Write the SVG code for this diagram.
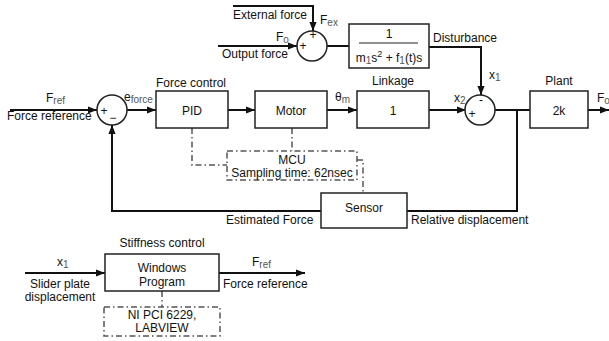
<svg xmlns="http://www.w3.org/2000/svg" width="609" height="341" viewBox="0 0 609 341">
<style>
text{font-family:"Liberation Sans",Arial,sans-serif;font-size:12px;fill:#111}
.c{text-anchor:middle}
.sub{font-size:10px;fill:#555}
.blk{fill:#fff;stroke:#222;stroke-width:1.5}
.w{fill:none;stroke:#111;stroke-width:2}
.dd{fill:none;stroke:#555;stroke-width:1.5;stroke-dasharray:6 3 1.5 3}
</style>
<defs>
<marker id="a" viewBox="0 0 10 8" refX="10" refY="4" markerWidth="9" markerHeight="7.2" orient="auto" markerUnits="userSpaceOnUse">
<path d="M0,0 L10,4 L0,8 z" fill="#111"/>
</marker>
</defs>

<g id="connectors">
<polyline class="w" points="233,6 313,6 313,31" marker-end="url(#a)"/>
<line class="w" x1="218" y1="46" x2="297" y2="46" marker-end="url(#a)"/>
<line class="w" x1="327" y1="46" x2="349" y2="46"/>
<polyline class="w" points="429,47 481,47 481,95" marker-end="url(#a)"/>
<line class="w" x1="10" y1="110" x2="97" y2="110" marker-end="url(#a)"/>
<line class="w" x1="127" y1="110" x2="156" y2="110" marker-end="url(#a)"/>
<line class="w" x1="228" y1="110" x2="255" y2="110" marker-end="url(#a)"/>
<line class="w" x1="327" y1="110" x2="357" y2="110" marker-end="url(#a)"/>
<line class="w" x1="429" y1="110" x2="466" y2="110" marker-end="url(#a)"/>
<line class="w" x1="495" y1="110" x2="530" y2="110"/>
<line class="w" x1="588" y1="110" x2="609" y2="110" marker-end="url(#a)"/>
<polyline class="w" points="517,110 517,211 407,211"/>
<polyline class="w" points="321,211 112,211 112,125" marker-end="url(#a)"/>
<line class="w" x1="25" y1="273" x2="105" y2="273" marker-end="url(#a)"/>
<line class="w" x1="219" y1="273" x2="305" y2="273" marker-end="url(#a)"/>
<polyline class="dd" points="192,128 192,165 227,165"/>
<line class="dd" x1="292" y1="128" x2="292" y2="151"/>
<polyline class="dd" points="357,160 363,160 363,193"/>
<line class="dd" x1="162" y1="291" x2="162" y2="307"/>
</g>

<g id="sum-disturbance">
<circle class="blk" cx="312" cy="46" r="15"/>
<text x="313" y="39" class="c">+</text>
<text x="303" y="50" class="c">+</text>
</g>
<g id="disturbance-tf">
<rect class="blk" x="349" y="24" width="80" height="44"/>
<text x="389" y="38" class="c">1</text>
<line x1="359" y1="43" x2="418" y2="43" stroke="#222" stroke-width="1"/>
<text x="389" y="62" class="c" font-size="13">m<tspan class="sub" dy="2">1</tspan><tspan dy="-2">s</tspan><tspan font-size="9" dy="-5">2</tspan><tspan dy="5"> + f</tspan><tspan class="sub" dy="2">1</tspan><tspan dy="-2">(t)s</tspan></text>
</g>
<g id="sum-force">
<circle class="blk" cx="112" cy="110" r="15"/>
<text x="104" y="115" class="c">+</text>
<text x="113" y="122" class="c">−</text>
</g>
<g id="pid">
<rect class="blk" x="156" y="91" width="72" height="37"/>
<text x="192" y="115" class="c">PID</text>
</g>
<g id="motor">
<rect class="blk" x="255" y="91" width="72" height="37"/>
<text x="291" y="115" class="c">Motor</text>
</g>
<g id="linkage">
<rect class="blk" x="357" y="91" width="72" height="37"/>
<text x="393" y="115" class="c">1</text>
</g>
<g id="sum-disp">
<circle class="blk" cx="480" cy="110" r="15"/>
<text x="481" y="104" class="c">-</text>
<text x="472" y="118" class="c">+</text>
</g>
<g id="plant">
<rect class="blk" x="530" y="91" width="58" height="37"/>
<text x="559" y="115" class="c">2k</text>
</g>
<g id="sensor">
<rect class="blk" x="321" y="193" width="86" height="35"/>
<text x="364" y="212" class="c">Sensor</text>
</g>
<g id="mcu">
<rect class="dd" x="227" y="151" width="130" height="29"/>
<text x="292" y="164" class="c">MCU</text>
<text x="292" y="177" class="c">Sampling time: 62nsec</text>
</g>
<g id="windows-program">
<rect class="blk" x="105" y="254" width="114" height="37"/>
<text x="162" y="272" class="c">Windows</text>
<text x="162" y="286" class="c">Program</text>
</g>
<g id="ni-pci">
<rect class="dd" x="104" y="307" width="116" height="29"/>
<text x="162" y="319" class="c">NI PCI 6229,</text>
<text x="162" y="332" class="c">LABVIEW</text>
</g>

<g id="labels">
<text x="233" y="19">External force</text>
<text x="320" y="24">F<tspan class="sub" dy="2">ex</tspan></text>
<text x="276" y="41">F<tspan class="sub" dy="2">o</tspan></text>
<text x="222" y="58">Output force</text>
<text x="433" y="42">Disturbance</text>
<text x="489" y="79">x<tspan class="sub" dy="2">1</tspan></text>
<text x="46" y="102">F<tspan class="sub" dy="2">ref</tspan></text>
<text x="7" y="120">Force reference</text>
<text x="124" y="101">e<tspan class="sub" dy="2">force</tspan></text>
<text x="156" y="87">Force control</text>
<text x="335" y="101">θ<tspan class="sub" dy="2">m</tspan></text>
<text x="393" y="85" class="c">Linkage</text>
<text x="454" y="102">x<tspan class="sub" dy="2">2</tspan></text>
<text x="559" y="85" class="c">Plant</text>
<text x="597" y="102">F<tspan class="sub" dy="2">o</tspan></text>
<text x="226" y="224">Estimated Force</text>
<text x="411" y="224">Relative displacement</text>
<text x="162" y="247" class="c">Stiffness control</text>
<text x="57" y="266">x<tspan class="sub" dy="2">1</tspan></text>
<text x="60" y="288" class="c">Slider plate</text>
<text x="60" y="301" class="c">displacement</text>
<text x="252" y="266">F<tspan class="sub" dy="2">ref</tspan></text>
<text x="223" y="288">Force reference</text>
</g>
</svg>
